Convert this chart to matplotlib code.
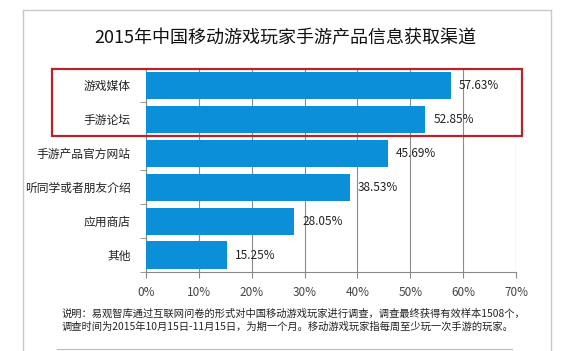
import matplotlib
matplotlib.use('Agg')
import matplotlib.pyplot as plt
from matplotlib.patches import Rectangle
from matplotlib.lines import Line2D

plt.rcParams['font.family'] = ['Noto Sans CJK SC', 'DejaVu Sans']

# data
categories = ['游戏媒体', '手游论坛', '手游产品官方网站', '听同学或者朋友介绍', '应用商店', '其他']
values = [57.63, 52.85, 45.69, 38.53, 28.05, 15.25]
xticks = [0, 10, 20, 30, 40, 50, 60, 70]
title = '2015年中国移动游戏玩家手游产品信息获取渠道'
note = ('说明：易观智库通过互联网问卷的形式对中国移动游戏玩家进行调查，调查最终获得有效样本1508个，\n'
        '调查时间为2015年10月15日-11月15日，为期一个月。移动游戏玩家指每周至少玩一次手游的玩家。')

W, H = 570, 351
fig = plt.figure(figsize=(W / 100, H / 100), dpi=100)
fig.patch.set_facecolor('white')

# outer frame
fig.add_artist(Line2D([23 / W, 23 / W], [0, 1 - 10 / H], color='#c8c8c8', lw=1))
fig.add_artist(Line2D([551 / W, 551 / W], [0, 1 - 10 / H], color='#c8c8c8', lw=1))
fig.add_artist(Line2D([23 / W, 551 / W], [1 - 10 / H, 1 - 10 / H], color='#c8c8c8', lw=1))
fig.add_artist(Line2D([57 / W, 512 / W], [1 - 349 / H, 1 - 349 / H], color='#bbbbbb', lw=0.8))

ax = fig.add_axes([146 / W, 1 - 272 / H, 370 / W, 203.5 / H])
y = list(range(len(categories)))
ax.barh(y, values, height=0.8, color='#0b8fd8', zorder=3)
ax.set_ylim(len(categories) - 0.5, -0.5)
ax.set_xlim(0, 70)

for yi, v in zip(y, values):
    ax.text(v + 1.6, yi, f'{v:.2f}%', va='center', ha='left', fontsize=8.5, color='#222222', zorder=4)

ax.set_xticks(xticks)
ax.set_xticklabels([f'{t}%' for t in xticks], fontsize=8.5, color='#444444')
ax.set_yticks(y)
ax.set_yticklabels(categories, fontsize=8.5, color='#222222')
ax.set_yticks([i + 0.5 for i in range(-1, len(categories))], minor=True)
ax.tick_params(axis='y', which='major', length=0, pad=11)
ax.tick_params(axis='y', which='minor', length=4, direction='out', color='#888888')
ax.tick_params(axis='x', length=4, color='#888888', pad=6)
ax.grid(axis='x', color='#8c8c8c', lw=0.8, zorder=0)
for s in ['top', 'right']:
    ax.spines[s].set_visible(False)
ax.spines['left'].set_color('#888888')
ax.spines['bottom'].set_color('#888888')

fig.text(285 / W, 1 - 38 / H, title, ha='center', va='center', fontsize=13, color='#111111')

# red highlight box
fig.add_artist(Rectangle((52 / W, 1 - 136 / H), 470 / W, 67 / H, fill=False,
                         edgecolor='#b8232a', lw=1.6))

fig.text(62 / W, 1 - 320 / H, note, ha='left', va='center', fontsize=7.4, color='#222222', linespacing=1.3)

fig.savefig('out.png', dpi=100)
